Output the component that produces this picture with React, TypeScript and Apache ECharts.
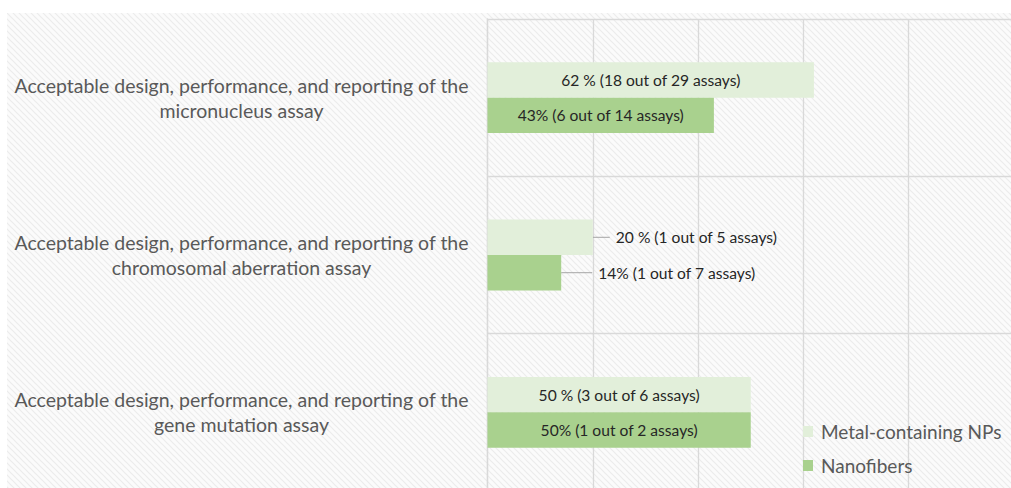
import React, { useEffect, useRef } from "react";
import * as echarts from "echarts";

const categories = [
  "Acceptable design, performance, and reporting of the\nmicronucleus assay",
  "Acceptable design, performance, and reporting of the\nchromosomal aberration assay",
  "Acceptable design, performance, and reporting of the\ngene mutation assay",
];
const seriesNames = ["Metal-containing NPs", "Nanofibers"];
const metalValues = [62, 20, 50];
const nanoValues = [43, 14, 50];
const metalLabels = [
  "62 % (18 out of 29 assays)",
  "20 % (1 out of 5 assays)",
  "50 % (3 out of 6 assays)",
];
const nanoLabels = [
  "43% (6 out of 14 assays)",
  "14% (1 out of 7 assays)",
  "50% (1 out of 2 assays)",
];
const outsideIndex = 1;

const FONT = "Lato, 'Open Sans', sans-serif";

function makePattern(): HTMLCanvasElement {
  const c = document.createElement("canvas");
  c.width = 6;
  c.height = 6;
  const ctx = c.getContext("2d")!;
  ctx.fillStyle = "#fbfbfb";
  ctx.fillRect(0, 0, 6, 6);
  ctx.strokeStyle = "#ececec";
  ctx.lineWidth = 1.2;
  ctx.beginPath();
  ctx.moveTo(-1, -1);
  ctx.lineTo(7, 7);
  ctx.moveTo(-1, 5);
  ctx.lineTo(1, 7);
  ctx.moveTo(5, -1);
  ctx.lineTo(7, 1);
  ctx.stroke();
  return c;
}

function buildData(values: number[], labels: string[]) {
  return values.map((v, i) => {
    const outside = i === outsideIndex;
    return {
      value: v,
      label: outside
        ? {
            show: true,
            position: "right",
            distance: 0,
            padding: [0, 0, 0, 6],
            backgroundColor: "rgba(255,255,255,0)",
            formatter: labels[i],
          }
        : {
            show: true,
            position: "inside",
            formatter: labels[i],
          },
      labelLine: outside
        ? { show: true, lineStyle: { color: "#a6a6a6", width: 1 } }
        : { show: false },
    };
  });
}

export default function App() {
  const ref = useRef<HTMLDivElement>(null);
  useEffect(() => {
    document.body.style.margin = "0";
    document.body.style.overflow = "hidden";
    document.documentElement.style.overflow = "hidden";
    const chart = echarts.init(ref.current!, null, { renderer: "svg" });
    const pattern = makePattern();
    chart.setOption({
      animation: false,
      backgroundColor: "#ffffff",
      graphic: [
        {
          type: "rect",
          z: -10,
          silent: true,
          shape: { x: 7, y: 13, width: 1010, height: 480 },
          style: { fill: { image: pattern, repeat: "repeat" } as any },
        },
      ],
      legend: {
        orient: "vertical",
        left: 798,
        top: 417,
        itemWidth: 10,
        itemHeight: 11,
        itemGap: 15,
        icon: "rect",
        textStyle: { color: "#595959", fontSize: 19, fontFamily: FONT, padding: [0, 0, 0, 3] },
        data: seriesNames,
      },
      grid: { left: 487.5, top: 19, right: 0, bottom: 0, containLabel: false },
      xAxis: {
        type: "value",
        min: 0,
        max: 100,
        interval: 20,
        axisLabel: { show: false },
        axisLine: { show: false },
        axisTick: { show: false },
        splitLine: { show: true, lineStyle: { color: "#d9d9d9", width: 1.3 } },
      },
      yAxis: {
        type: "category",
        inverse: true,
        data: categories,
        axisLine: { show: true, lineStyle: { color: "#d9d9d9", width: 1.3 } },
        axisTick: { show: false },
        splitLine: { show: true, lineStyle: { color: "#d9d9d9", width: 1.3 } },
        axisLabel: {
          color: "#595959",
          fontSize: 19.5,
          fontFamily: FONT,
          align: "center",
          margin: 246,
          lineHeight: 25,
        },
      },
      series: [
        {
          name: seriesNames[0],
          type: "bar",
          barGap: "0%",
          barCategoryGap: "55%",
          itemStyle: { color: "#e2efda" },
          label: { color: "#262626", fontSize: 15.6, fontFamily: FONT },
          labelLayout: (p: any) => (p.dataIndex === outsideIndex ? { dx: 17 } : {}),
          data: buildData(metalValues, metalLabels),
        },
        {
          name: seriesNames[1],
          type: "bar",
          barGap: "0%",
          barCategoryGap: "55%",
          itemStyle: { color: "#a9d18e" },
          label: { color: "#262626", fontSize: 15.6, fontFamily: FONT },
          labelLayout: (p: any) => (p.dataIndex === outsideIndex ? { dx: 31 } : {}),
          data: buildData(nanoValues, nanoLabels),
        },
      ],
    });
    return () => chart.dispose();
  }, []);
  return (
    <div
      ref={ref}
      style={{ position: "absolute", left: 0, top: 0, width: 1014, height: 491 }}
    />
  );
}
